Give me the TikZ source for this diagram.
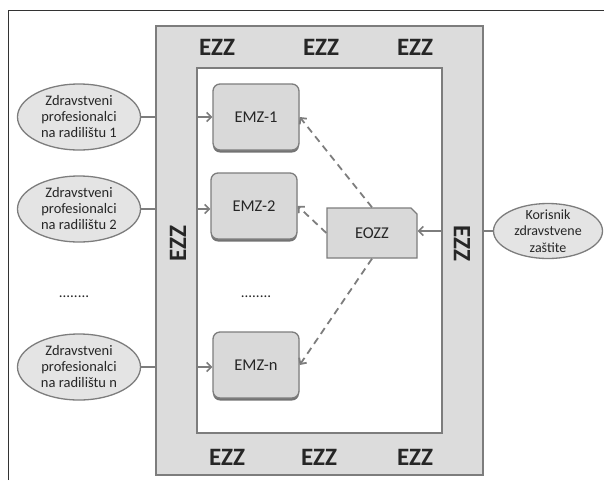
\documentclass[tikz,border=0pt]{standalone}
\usepackage{fontspec}
\setmainfont{Carlito}
\usepackage{tikz}
\usetikzlibrary{positioning, shapes, arrows.meta, shadows}

\definecolor{bandgray}{RGB}{220,220,220}
\definecolor{boxgray}{RGB}{217,217,217}
\definecolor{ellgray}{RGB}{228,228,228}
\definecolor{linegray}{RGB}{125,125,125}
\definecolor{textdark}{RGB}{38,38,38}

\begin{document}
\begin{tikzpicture}[x=1pt, y=-1pt, >={Straight Barb[length=4.5pt, width=9pt]}]
			
			\tikzstyle{prof}=[ellipse, draw=linegray, line width=1.3pt, fill=ellgray, minimum width=123pt, minimum height=66pt, inner xsep=0pt, inner ysep=-6pt, align=center, text=textdark, font=\fontsize{14.5}{16}\selectfont]
			\tikzstyle{emz}=[draw=linegray, line width=1.3pt, fill=boxgray, rounded corners=7pt, minimum width=86pt, minimum height=66pt, text=textdark, font=\fontsize{16.5}{18}\selectfont, drop shadow={shadow xshift=0pt, shadow yshift=-2.5pt, fill=black!55, opacity=1}]
			\tikzstyle{eozzbox}=[chamfered rectangle, chamfered rectangle corners=north east, chamfered rectangle xsep=3pt, chamfered rectangle ysep=3pt, draw=linegray, line width=1.3pt, fill=boxgray, minimum width=90pt, minimum height=50pt, text=textdark, font=\fontsize{16.5}{18}\selectfont]
			\tikzstyle{conn}=[draw=linegray, line width=1.6pt]
			\tikzstyle{ezz}=[text=textdark, font=\fontsize{25}{27}\selectfont\bfseries]
			\tikzstyle{dotsn}=[text=textdark, font=\fontsize{15}{17}\selectfont]
			
			\useasboundingbox (0,0) rectangle (604,480);
			\draw [black!80, line width=0.8pt] (8.5,480) |- (604,10);
			
			\node (z1) at (79,117) [prof] {Zdravstveni\\profesionalci\\na radilištu 1};
			\node (z2) at (79,209) [prof] {Zdravstveni\\profesionalci\\na radilištu 2};
			\node (zn) at (79,367) [prof] {Zdravstveni\\profesionalci\\na radilištu n};
			\node (zdots) at (74,297) [dotsn] {........};
			
			\node (m1) at (256,117) [emz] {EMZ-1};
			\node (m2) at (254,206) [emz] {EMZ-2};
			\node (mn) at (256,365) [emz] {EMZ-n};
			\node (mdots) at (256,297) [dotsn] {........};
			
			\node (eozz) at (372,233) [eozzbox] {EOZZ};
			\node (kor) at (548,231) [prof, minimum width=109pt, minimum height=55pt, inner ysep=-9pt, font=\fontsize{14}{16.5}\selectfont] {Korisnik\\zdravstvene\\zaštite};
			
			\draw [conn, ->] (z1) -- (z1 -| m1.west);
			\draw [conn, ->] (z2) -- (z2 -| m2.west);
			\draw [conn, ->] (zn) -- (zn -| mn.west);
			\draw [conn, ->] (kor) -- (kor -| eozz.east);
			
			\draw [conn, line width=1.8pt, dash pattern=on 7pt off 5pt, ->] (eozz.north) -- (m1.east);
			\draw [conn, line width=1.8pt, dash pattern=on 7pt off 5pt, ->] (eozz.west) -- (m2.east);
			\draw [conn, line width=1.8pt, dash pattern=on 7pt off 5pt, ->] (eozz.south) -- (mn.east);
			
			% EZZ band over the connectors
			\fill [bandgray, even odd rule] (156,26) rectangle (483,475) (197,68) rectangle (442,433);
			\draw [linegray, line width=1.5pt] (156,26) rectangle (483,475);
			\draw [linegray, line width=1.5pt] (197,68) rectangle (442,433);
			
			\node (ezzt1) at (217,47) [ezz] {EZZ};
			\node (ezzt2) at (321,47) [ezz] {EZZ};
			\node (ezzt3) at (415,47) [ezz] {EZZ};
			\node (ezzb1) at (227,457) [ezz] {EZZ};
			\node (ezzb2) at (319,457) [ezz] {EZZ};
			\node (ezzb3) at (415,457) [ezz] {EZZ};
			\node (ezzl) at (178,244) [ezz, rotate=90] {EZZ};
			\node (ezzr) at (462,243) [ezz, rotate=-90] {EZZ};
			
\end{tikzpicture}
\end{document}
